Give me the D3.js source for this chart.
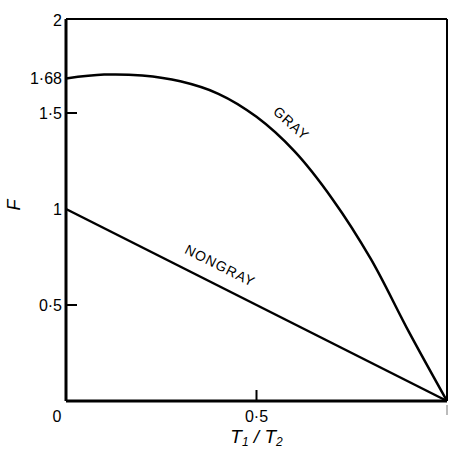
<!DOCTYPE html>
<html>
<head>
<meta charset="utf-8">
<script src="https://cdn.jsdelivr.net/npm/d3@7"></script>
<style>
  body { margin: 0; background: #fff; }
  svg { display: block; font-family: "Liberation Sans", Arial, sans-serif; }
</style>
</head>
<body>
<svg width="449" height="450"></svg>
<script>
// values (T1/T2 -> F)
const grayX = [0, 0.1, 0.2, 0.3, 0.4, 0.5, 0.6, 0.7, 0.8, 0.9, 1]
const grayY = [1.68, 1.70, 1.695, 1.665, 1.60, 1.48, 1.30, 1.05, 0.74, 0.36, 0]
const nongrayX = [0, 1]
const nongrayY = [1, 0]
const yTicks = [2, 1.68, 1.5, 1, 0.5]
const yTickLabels = ["2", "1·68", "1·5", "1", "0·5"]
const xTicks = [0, 0.5]
const xTickLabels = ["0", "0·5"]

const svg = d3.select("svg")
const x = d3.scaleLinear().domain([0, 1]).range([66, 447])
const y = d3.scaleLinear().domain([0, 2]).range([401, 17])

//frame: left + bottom heavy, top + right thinner
svg.append("line").attr("x1", x(0)).attr("x2", x(0)).attr("y1", 19).attr("y2", y(0))
    .attr("stroke", "#000").attr("stroke-width", 3)
svg.append("line").attr("x1", x(0)).attr("x2", x(1)).attr("y1", y(0)).attr("y2", y(0))
    .attr("stroke", "#000").attr("stroke-width", 3)
svg.append("line").attr("x1", x(0)).attr("x2", x(1)).attr("y1", 19).attr("y2", 19)
    .attr("stroke", "#000").attr("stroke-width", 2)
svg.append("line").attr("x1", x(1)).attr("x2", x(1)).attr("y1", 19).attr("y2", y(0))
    .attr("stroke", "#000").attr("stroke-width", 2)

//inner tick marks
svg.selectAll(".ytick").data([1.5, 0.5]).enter().append("line")
    .attr("x1", x(0)).attr("x2", x(0) + 11)
    .attr("y1", d => y(d)).attr("y2", d => y(d))
    .attr("stroke", "#000").attr("stroke-width", 2)
svg.append("line").attr("x1", x(0.5)).attr("x2", x(0.5)).attr("y1", y(0)).attr("y2", y(0) - 11)
    .attr("stroke", "#000").attr("stroke-width", 2)
svg.append("line").attr("x1", x(1)).attr("x2", x(1)).attr("y1", y(0) + 4).attr("y2", y(0) + 14)
    .attr("stroke", "#bbb").attr("stroke-width", 2)

//tick labels
svg.selectAll(".ylab").data(yTicks).enter().append("text")
    .attr("x", 62).attr("y", (d, i) => i == 0 ? 26 : y(d) + 6)
    .attr("text-anchor", "end").attr("font-size", 16)
    .text((d, i) => yTickLabels[i])
svg.selectAll(".xlab").data(xTicks).enter().append("text")
    .attr("x", (d, i) => i == 0 ? 57 : x(d)).attr("y", 422)
    .attr("text-anchor", "middle").attr("font-size", 16)
    .text((d, i) => xTickLabels[i])

//axis titles
svg.append("text").attr("transform", "translate(20,205) rotate(-90)")
    .attr("text-anchor", "middle").attr("font-size", 18).attr("font-style", "italic").text("F")
const xt = svg.append("text").attr("x", x(0.5)).attr("y", 443)
    .attr("text-anchor", "middle").attr("font-size", 19).attr("font-style", "italic")
xt.append("tspan").text("T")
xt.append("tspan").attr("dy", 3).attr("font-size", 12).text("1")
xt.append("tspan").attr("dy", -3).text(" / T")
xt.append("tspan").attr("dy", 3).attr("font-size", 12).text("2")

//curves
const line = d3.line().x(d => x(d[0])).y(d => y(d[1])).curve(d3.curveCatmullRom.alpha(0.5))
svg.append("path").attr("d", line(grayX.map((v, i) => [v, grayY[i]])))
    .attr("fill", "none").attr("stroke", "#000").attr("stroke-width", 2.5)
svg.append("path").attr("d", line(nongrayX.map((v, i) => [v, nongrayY[i]])))
    .attr("fill", "none").attr("stroke", "#000").attr("stroke-width", 2.5)

//curve labels
svg.append("text").attr("transform", "translate(288,127) rotate(42)")
    .attr("text-anchor", "middle").attr("font-size", 14).attr("letter-spacing", 1).text("GRAY")
svg.append("text").attr("transform", "translate(218,270) rotate(26.6)")
    .attr("text-anchor", "middle").attr("font-size", 14).attr("letter-spacing", 1).text("NONGRAY")
</script>
</body>
</html>
